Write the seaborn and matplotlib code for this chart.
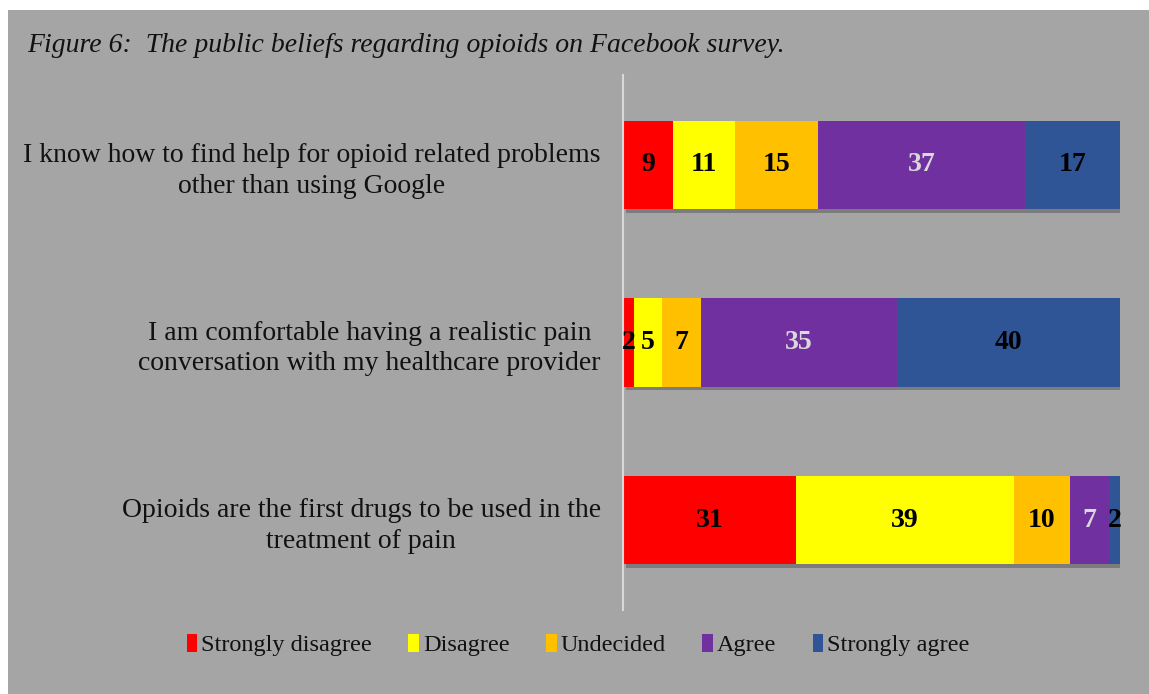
import matplotlib
matplotlib.use("Agg")
import matplotlib.pyplot as plt
import matplotlib.patheffects as pe
from matplotlib.patches import Patch, Rectangle
import numpy as np
import seaborn as sns

statements = [
    "I know how to find help for opioid related problems\nother than using Google",
    "I am comfortable having a realistic pain\nconversation with my healthcare provider",
    "Opioids are the first drugs to be used in the\ntreatment of pain",
]
categories = ["Strongly disagree", "Disagree", "Undecided", "Agree", "Strongly agree"]
strongly_disagree = [9, 2, 31]
disagree = [11, 5, 39]
undecided = [15, 7, 10]
agree = [37, 35, 7]
strongly_agree = [17, 40, 2]
colors = ["#ff0000", "#ffff00", "#ffc000", "#7030a0", "#2f5597"]
label_colors = ["black", "black", "black", "#d9d9d9", "black"]

series = [strongly_disagree, disagree, undecided, agree, strongly_agree]
bg = "#a5a5a5"

sns.set_style("white")
plt.rcParams["font.family"] = ["Liberation Serif", "DejaVu Serif"]
plt.rcParams["text.color"] = "#111111"
plt.rcParams["ytick.color"] = "#111111"

fig = plt.figure(figsize=(11.49, 6.94), dpi=100, facecolor="white")
fig.add_artist(Rectangle((8 / 1149, 0), 1, 1 - 10 / 694, transform=fig.transFigure,
                         facecolor=bg, edgecolor="none", zorder=-10))
ax = fig.add_axes([623 / 1149, 1 - 610 / 694, (1120 - 623) / 1149, (610 - 75) / 694])
ax.set_facecolor("none")

data = np.array(series, dtype=float)
cum = np.cumsum(data, axis=0)

# draw cumulative totals from the largest down so each segment shows
for i in reversed(range(len(categories))):
    sns.barplot(x=cum[i], y=statements, color=colors[i], orient="h", width=0.5,
                saturation=1, ax=ax, edgecolor="none", linewidth=0)
# soft shadow only under the full bars
for p in ax.patches[:len(statements)]:
    p.set_path_effects([pe.SimplePatchShadow(offset=(2, -2.5), shadow_rgbFace="#555555", alpha=0.5),
                        pe.Normal()])

for i in range(len(categories)):
    for j in range(len(statements)):
        v = data[i, j]
        x = cum[i, j] - v / 2
        ax.text(x, j, f"{int(v)}", ha="center", va="center", fontsize=20,
                fontweight="bold", color=label_colors[i])

ax.set_xlim(0, 89)
ax.set_ylim(2.507, -0.507)
ax.set_xlabel("")
ax.set_ylabel("")
ax.set_xticks([])
ax.tick_params(axis="y", length=0, pad=16, labelsize=20)
for t in ax.get_yticklabels():
    t.set_multialignment("center")
    t.set_linespacing(1.3)
for s in ["top", "right", "bottom"]:
    ax.spines[s].set_visible(False)
ax.spines["left"].set_color("#d9d9d9")
ax.spines["left"].set_linewidth(1.5)

fig.text(27 / 1149, 1 - 45 / 694, "Figure 6:  The public beliefs regarding opioids on Facebook survey.",
         fontsize=20, fontstyle="italic", va="center", ha="left")

handles = [Patch(facecolor=c, edgecolor="none") for c in colors]
fig.legend(handles, categories, loc="center", bbox_to_anchor=(578 / 1149, 1 - 645 / 694),
           ncol=5, frameon=False, fontsize=17.5, handlelength=0.45, handleheight=0.75,
           handletextpad=0.15, columnspacing=1.5)

fig.savefig("out.png", dpi=100, facecolor="white")
